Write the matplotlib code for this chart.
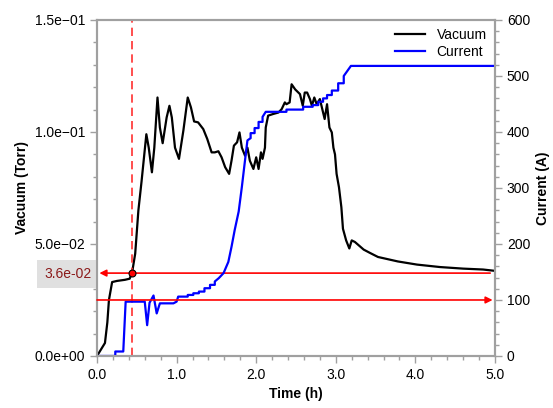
import matplotlib
matplotlib.use("Agg")
import matplotlib.pyplot as plt
import matplotlib.transforms as mtransforms
from matplotlib.ticker import MultipleLocator, FuncFormatter

plt.rcParams["font.family"] = ["Liberation Sans", "DejaVu Sans"]

# Vacuum (Torr) vs time (h)
vac_t = [0.00, 0.10, 0.13, 0.15, 0.19, 0.25, 0.35, 0.41, 0.44, 0.48, 0.52, 0.56, 0.62, 0.65,
         0.69, 0.72, 0.76, 0.79, 0.825, 0.875, 0.91, 0.94, 0.98, 1.03, 1.085, 1.14, 1.18, 1.22,
         1.27, 1.335, 1.385, 1.44, 1.48, 1.525, 1.565, 1.61, 1.66, 1.69, 1.72, 1.76, 1.79, 1.82,
         1.86, 1.89, 1.92, 1.965, 2.00, 2.03, 2.06, 2.08, 2.11, 2.12, 2.15, 2.21, 2.28, 2.32,
         2.36, 2.38, 2.42, 2.445, 2.49, 2.53, 2.55, 2.585, 2.61, 2.64, 2.675, 2.70, 2.73, 2.76,
         2.80, 2.835, 2.86, 2.89, 2.92, 2.95, 2.97, 2.99, 3.01, 3.04, 3.07, 3.09, 3.13, 3.17,
         3.20, 3.24, 3.35, 3.43, 3.53, 3.68, 3.78, 4.02, 4.31, 4.60, 4.85, 5.00]
vac_v = [0.0, 0.0058, 0.015, 0.025, 0.0330, 0.0335, 0.0340, 0.0345, 0.037, 0.0457, 0.065, 0.078,
         0.099, 0.093, 0.082, 0.093, 0.1154, 0.102, 0.095, 0.1065, 0.1117, 0.1065, 0.093, 0.088,
         0.1006, 0.1154, 0.111, 0.1047, 0.1043, 0.1013, 0.0969, 0.0909, 0.0909, 0.0914, 0.0887,
         0.0843, 0.0813, 0.0872, 0.0939, 0.0954, 0.0998, 0.093, 0.0894, 0.093, 0.0872, 0.0835,
         0.0887, 0.0835, 0.0909, 0.088, 0.093, 0.102, 0.1073, 0.108, 0.1087, 0.1102, 0.1132,
         0.1124, 0.1132, 0.1213, 0.119, 0.1176, 0.1169, 0.1117, 0.1176, 0.1176, 0.1147, 0.1117,
         0.1154, 0.1124, 0.1147, 0.1095, 0.1058, 0.1124, 0.102, 0.0998, 0.093, 0.090, 0.0813,
         0.0753, 0.0664, 0.0568, 0.0516, 0.048, 0.0516, 0.0509, 0.0475, 0.046, 0.0442, 0.043,
         0.0422, 0.0408, 0.0397, 0.039, 0.0386, 0.038]

# Current (A) vs time (h)
cur_t = [0.00, 0.23, 0.23, 0.33, 0.36, 0.60, 0.63, 0.66, 0.71, 0.75, 0.79, 0.96, 1.00, 1.02,
         1.14, 1.14, 1.21, 1.21, 1.28, 1.28, 1.35, 1.35, 1.42, 1.42, 1.48, 1.48, 1.53, 1.59,
         1.65, 1.69, 1.73, 1.78, 1.82, 1.86, 1.89, 1.93, 1.93, 1.98, 1.98, 2.03, 2.03, 2.08,
         2.08, 2.12, 2.38, 2.38, 2.59, 2.59, 2.71, 2.71, 2.78, 2.78, 2.84, 2.84, 2.89, 2.89,
         2.95, 2.95, 3.03, 3.03, 3.10, 3.10, 3.14, 3.19, 5.00]
cur_a = [0, 0, 8, 8, 97, 97, 55, 95, 108, 76, 94, 94, 97, 106, 106, 109, 109, 112, 112, 115,
         115, 121, 121, 127, 127, 133, 139, 148, 168, 195, 225, 258, 302, 350, 385, 389, 398,
         398, 407, 407, 418, 418, 427, 436, 436, 440, 440, 445, 445, 448, 448, 454, 454, 460,
         460, 466, 466, 474, 474, 487, 487, 500, 508, 518, 518]

cursor_t = 0.44
cursor_v = 0.037
cursor_label = "3.6e-02"
ref_current = 100

grey = "#a0a0a0"

fig = plt.figure(figsize=(5.53, 4.08), dpi=100)
ax = fig.add_axes([0.1754, 0.1275, 0.7197, 0.8235])
ax2 = ax.twinx()

l1, = ax.plot(vac_t, vac_v, color="black", lw=1.6, label="Vacuum")
l2, = ax2.plot(cur_t, cur_a, color="#0000ff", lw=1.6, label="Current")

ax.set_xlim(0, 5)
ax.set_ylim(0, 0.15)
ax2.set_ylim(0, 600)

# cursor markers
ax.axvline(cursor_t, color="#ff3030", lw=1.2, ls=(0, (5, 3)))
ax.annotate("", xy=(0.03, cursor_v), xytext=(4.94, cursor_v),
            arrowprops=dict(arrowstyle="-|>", color="red", lw=1.2, mutation_scale=10,
                            shrinkA=0, shrinkB=0))
ax2.annotate("", xy=(4.97, ref_current), xytext=(0.0, ref_current),
             arrowprops=dict(arrowstyle="-|>", color="red", lw=1.2, mutation_scale=10,
                             shrinkA=0, shrinkB=0))
ax.plot([cursor_t], [cursor_v], "o", ms=5, mfc="red", mec="black", mew=0.8, zorder=5)
trans = mtransforms.blended_transform_factory(ax.transAxes, ax.transData)
ax.text(-0.014, cursor_v - 0.0005, cursor_label, transform=trans, ha="right", va="center",
        color="#8b1a1a", fontsize=10, clip_on=False,
        bbox=dict(boxstyle="square,pad=0.5", facecolor="#e0e0e0", edgecolor="none"))

# ticks
ax.xaxis.set_major_locator(MultipleLocator(1))
ax.xaxis.set_minor_locator(MultipleLocator(0.2))
ax.xaxis.set_major_formatter(FuncFormatter(lambda v, p: f"{v:.1f}"))
ax.yaxis.set_major_locator(MultipleLocator(0.05))
ax.yaxis.set_minor_locator(MultipleLocator(0.01))
ax.yaxis.set_major_formatter(FuncFormatter(lambda v, p: f"{v:.1e}".replace("-", "\u2212")))
ax2.yaxis.set_major_locator(MultipleLocator(100))
ax2.yaxis.set_minor_locator(MultipleLocator(20))

for a in (ax, ax2):
    for s in a.spines.values():
        s.set_color(grey)
        s.set_linewidth(1.5)
    a.tick_params(which="major", direction="out", length=5, width=1, color=grey,
                  labelsize=10, labelcolor="black")
    a.tick_params(which="minor", direction="out", length=3, width=1, color=grey)

ax.set_xlabel("Time (h)", fontsize=10, fontweight="bold")
ax.set_ylabel("Vacuum (Torr)", fontsize=10, fontweight="bold")
ax2.set_ylabel("Current (A)", fontsize=10, fontweight="bold")

ax2.legend(handles=[l1, l2], loc="upper right", frameon=False, fontsize=10,
           handlelength=2.2, borderaxespad=0.2, labelspacing=0.2)

fig.savefig("out.png", dpi=100)
